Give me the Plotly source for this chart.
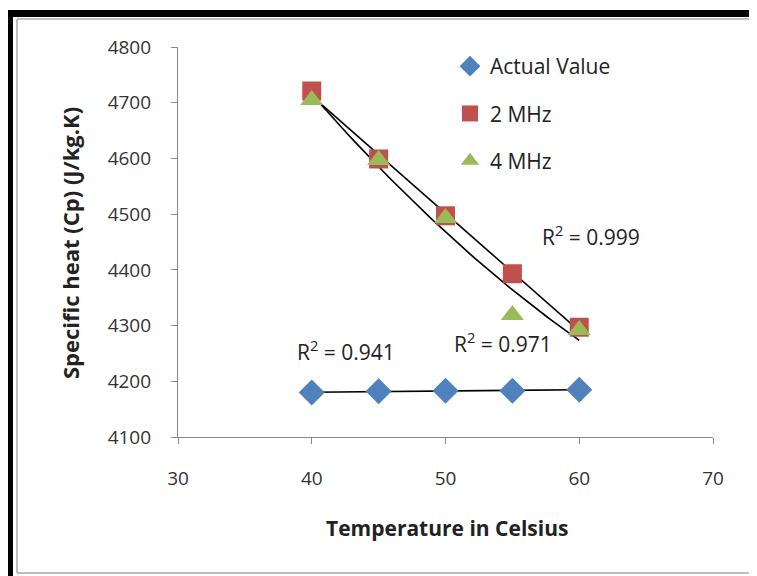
import numpy as np
import plotly.graph_objects as go

temps = [40, 45, 50, 55, 60]
actual = [4180, 4182, 4183, 4183, 4185]
mhz2 = [4721, 4599, 4497, 4393, 4297]
mhz4 = [4705, 4597, 4493, 4319, 4292]
r2_labels = ["R<sup>2</sup> = 0.999", "R<sup>2</sup> = 0.971", "R<sup>2</sup> = 0.941"]

# The page puts the figure at an 8px offset; all pixel positions below are figure pixels.
W, H = 757, 576
L, T, pw, ph = 170, 39, 535, 390
R, B = W - L - pw, H - T - ph

def px(x):
    return (x - L) / pw

def py(y):
    return (T + ph - y) / ph

FONT = "Open Sans, sans-serif"
fig = go.Figure()

xs = np.linspace(40, 60, 60)
fit_a = np.polyfit(temps, actual, 1)
fit_2 = np.polyfit(temps, mhz2, 1)
fit_4 = np.polyfit(temps, mhz4, 2)
for fit in (fit_a, fit_2, fit_4):
    fig.add_trace(go.Scatter(x=xs, y=np.polyval(fit, xs), mode="lines",
                             line=dict(color="black", width=1.6),
                             showlegend=False, hoverinfo="skip"))

fig.add_trace(go.Scatter(x=temps, y=actual, mode="markers", name="Actual Value",
                         legendgroup="a",
                         marker=dict(symbol="diamond", size=20, color="#4F81BD")))
fig.add_trace(go.Scatter(x=temps, y=mhz2, mode="markers", name="2 MHz",
                         legendgroup="b",
                         marker=dict(symbol="square", size=19, color="#C0504D")))
fig.add_trace(go.Scatter(x=temps, y=mhz4, mode="markers", name="4 MHz",
                         legendgroup="c",
                         marker=dict(symbol="triangle-up", size=20, color="#9BBB59")))

ann_font = dict(family=FONT, size=21, color="#222")
fig.add_annotation(x=60.88, y=4461, text=r2_labels[0], showarrow=False, font=ann_font)
fig.add_annotation(x=54.3, y=4270, text=r2_labels[1], showarrow=False, font=ann_font)
fig.add_annotation(x=42.56, y=4256, text=r2_labels[2], showarrow=False, font=ann_font)

fig.add_annotation(xref="paper", yref="paper", x=px((L + L + pw) / 2 + 1), y=py(520),
                   xanchor="center", yanchor="middle",
                   text="<b>Temperature in Celsius</b>", showarrow=False,
                   font=dict(family=FONT, size=21, color="#222"))
fig.add_annotation(xref="paper", yref="paper", x=px(62), y=py(235), textangle=-90,
                   xanchor="center", yanchor="middle",
                   text="<b>Specific heat (Cp) (J/kg.K)</b>", showarrow=False,
                   font=dict(family=FONT, size=22, color="#222"))

# frame borders
shapes = [
    dict(type="rect", xref="paper", yref="paper", x0=px(-2), x1=px(760), y0=py(9), y1=py(2),
         fillcolor="black", line=dict(width=0), layer="above"),
    dict(type="rect", xref="paper", yref="paper", x0=px(-2), x1=px(5), y0=py(580), y1=py(2),
         fillcolor="black", line=dict(width=0), layer="above"),
    dict(type="line", xref="paper", yref="paper", x0=px(9), x1=px(760), y0=py(11), y1=py(11),
         line=dict(color="#A8A8A8", width=1.5)),
    dict(type="line", xref="paper", yref="paper", x0=px(9), x1=px(9), y0=py(11), y1=py(565),
         line=dict(color="#A8A8A8", width=1.5)),
    dict(type="line", xref="paper", yref="paper", x0=px(9), x1=px(760), y0=py(565), y1=py(565),
         line=dict(color="#A8A8A8", width=1.5)),
]

tick_font = dict(family=FONT, size=19, color="#333")
fig.update_layout(
    width=W, height=H,
    margin=dict(l=L, r=R, t=T, b=B),
    paper_bgcolor="white", plot_bgcolor="white",
    shapes=shapes,
    showlegend=True,
    legend=dict(x=px(442), y=py(38), xanchor="left", yanchor="top",
                font=dict(family=FONT, size=21, color="#222"),
                tracegroupgap=17, bgcolor="rgba(0,0,0,0)"),
    xaxis=dict(range=[30, 70], tickvals=[30, 40, 50, 60, 70], showgrid=False,
               zeroline=False, showline=True, linecolor="#888", linewidth=1.2,
               ticks="outside", ticklen=6, tickcolor="#888", tickfont=tick_font,
               ticklabelstandoff=18),
    yaxis=dict(range=[4100, 4800], tickvals=list(range(4100, 4801, 100)), showgrid=False,
               zeroline=False, showline=True, linecolor="#888", linewidth=1.2,
               ticks="outside", ticklen=6, tickcolor="#888", tickfont=tick_font,
               ticklabelstandoff=16),
)

fig.write_html("out.html")
